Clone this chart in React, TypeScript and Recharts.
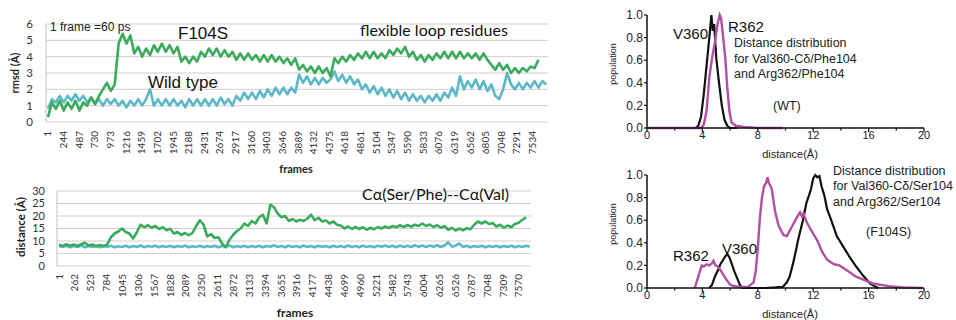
import React from 'react';
import { LineChart, Line, XAxis, YAxis, CartesianGrid } from 'recharts';

// ---------- data: RMSD of flexible loop residues (frames sampled every 61) ----------
const FRAME_STEP = 61;
const rmsdTicks = [1,244,487,730,973,1216,1459,1702,1945,2188,2431,2674,2917,3160,3403,3646,3889,4132,4375,4618,4861,5104,5347,5590,5833,6076,6319,6562,6805,7048,7291,7534];
const rmsdYTicks = [0,1,2,3,4,5,6];
const wtRmsd = [0.8,1.4,1.2,1.6,1.2,1.6,1.3,1.7,1.3,1.6, 1.2,1.5,1.1,1.4,1.0,1.4,1.1,1.4,1.0,1.3, 0.9,1.3,1.0,1.4,1.0,1.4,2.0,1.0,1.4,1.0, 1.4,1.0,1.4,1.0,1.3,0.9,1.4,1.0,1.4,1.0, 1.4,1.0,1.4,1.0,1.5,1.1,1.4,1.0,1.6,1.3, 1.8,1.4,1.8,1.4,1.9,1.5,2.0,1.6,2.1,1.7, 2.1,1.7,2.1,1.8,2.9,2.4,2.8,2.3,2.7,2.3, 2.7,2.4,2.6,3.1,2.5,2.9,2.4,2.8,2.3,2.6, 2.0,2.3,1.8,2.2,1.7,2.1,1.6,2.0,1.5,1.9, 1.4,1.8,1.3,1.7,1.3,1.6,1.2,1.6,1.3,1.7, 1.3,1.8,1.5,2.1,1.6,2.8,2.0,2.5,2.1,2.6, 2.0,2.5,1.9,2.3,1.6,1.4,2.0,3.0,2.3,2.0, 2.4,2.0,2.4,2.1,2.5,2.1,2.5,2.3];
const f104sRmsd = [0.3,1.2,0.8,1.3,0.7,1.2,0.8,1.3,0.7,1.2, 1.0,1.5,1.1,1.6,2.0,2.4,1.9,2.3,4.8,5.4, 4.8,5.3,4.2,4.6,4.0,4.5,4.1,4.7,4.3,4.8, 4.3,4.7,4.2,4.6,3.7,4.0,3.6,4.0,3.7,4.3, 4.0,4.5,4.1,4.5,4.0,4.4,4.0,4.3,3.8,4.2, 3.8,4.2,3.8,4.1,3.7,4.1,3.7,4.1,3.7,4.0, 3.6,3.9,3.5,3.9,3.2,3.5,3.1,3.4,3.0,3.4, 3.0,3.3,2.8,3.9,3.6,4.0,3.7,4.1,3.8,4.2, 3.9,4.3,3.9,4.3,3.9,4.2,3.9,4.4,4.1,4.5, 4.2,4.6,4.0,4.3,3.8,4.1,3.7,4.1,3.8,4.2, 3.9,4.3,3.9,4.3,3.9,4.3,3.9,4.2,3.9,4.2, 3.8,4.2,3.8,3.5,3.2,3.6,3.2,3.5,3.0,3.3, 3.0,3.3,3.1,3.4,3.3,3.8];

// ---------- data: Cα(Ser/Phe)--Cα(Val) distance ----------
const distTicks = [1,262,523,784,1045,1306,1567,1828,2089,2350,2611,2872,3133,3394,3655,3916,4177,4438,4699,4960,5221,5482,5743,6004,6265,6526,6787,7048,7309,7570];
const distYTicks = [0,5,10,15,20,25,30];
const wtDist = [8.0,7.6,8.1,7.5,8.0,7.6,8.2,7.5,8.0,7.6, 8.1,7.5,8.0,7.7,8.1,7.5,7.9,7.6,8.1,7.5, 8.0,7.6,8.2,7.5,8.0,7.7,8.1,7.5,8.0,7.6, 8.1,7.5,8.0,7.6,8.2,7.5,7.9,7.6,8.1,7.5, 8.0,7.6,8.1,7.5,8.0,7.7,8.2,7.5,8.0,7.6, 8.1,7.5,8.0,7.6,8.1,7.5,8.0,7.7,8.3,7.6, 8.0,7.5,8.1,7.6,8.0,7.5,8.2,7.6,8.0,7.5, 8.1,7.6,8.0,7.5,8.1,7.6,8.0,7.5,8.2,7.6, 8.0,7.5,8.1,7.6,8.0,7.5,8.1,7.7,8.2,7.6, 8.1,7.5,8.2,7.6,8.1,7.6,8.3,7.7,8.2,7.6, 8.2,7.7,8.3,7.6,8.2,9.5,7.7,8.2,9.0,7.6, 8.1,7.5,8.0,7.6,8.1,7.5,8.0,7.6,8.1,7.5, 8.0,7.6,8.1,7.5,8.0,7.6,8.1,7.7];
const f104sDist = [8.5,8.0,8.7,8.1,8.6,8.0,8.7,9.3,8.2,8.6, 7.9,8.4,7.9,8.6,11.5,13.0,13.8,15.0,13.6,13.0, 11.0,13.5,16.5,15.5,16.3,15.3,16.0,14.8,15.5,14.3, 14.9,13.0,13.6,12.4,13.2,12.3,13.2,16.0,18.3,16.5, 11.8,12.8,11.2,11.5,9.0,7.5,10.5,12.5,14.0,15.0, 17.0,16.0,18.0,17.0,19.5,20.5,17.0,24.5,23.5,21.0, 19.5,20.0,18.0,18.8,17.8,18.5,18.0,19.0,20.5,18.3, 19.3,17.8,18.2,17.0,17.8,16.5,16.2,15.0,15.8,14.8, 15.6,14.8,15.5,14.5,15.3,14.7,15.6,15.0,15.8,15.2, 16.0,15.5,16.3,15.6,16.4,15.7,16.5,16.0,17.0,16.0, 16.6,15.6,16.3,15.3,16.0,14.5,15.3,14.2,15.0,14.3, 15.1,14.7,16.5,17.8,17.0,17.8,16.8,17.2,15.8,16.5, 15.3,16.2,15.5,16.8,17.3,18.5,19.5];

// ---------- data: distance distributions ----------
const popTicks = [0, 0.2, 0.4, 0.6, 0.8, 1.0];
const distanceTicks = [0,2,4,6,8,10,12,14,16,18,20];
const wtV360D = [0,3.5,3.7,3.9,4.1,4.3,4.5,4.65,4.75,4.85,5.0,5.2,5.4,5.6,5.8,6.0,6.5];
const wtV360P = [0,0,0.02,0.1,0.3,0.55,0.8,1.0,0.86,0.92,0.62,0.4,0.2,0.07,0.02,0,0];
const wtR362D = [0,3.9,4.1,4.3,4.5,4.7,4.9,5.1,5.25,5.35,5.5,5.65,5.8,5.95,6.1,6.4,7.0,8.0,9.8];
const wtR362P = [0,0,0.03,0.15,0.45,0.62,0.76,0.92,1.0,0.97,0.8,0.62,0.35,0.15,0.05,0.02,0.01,0,0];
const mutV360D = [4.5,4.7,4.9,5.1,5.3,5.5,5.65,5.8,5.95,6.1,6.3,6.5,6.7,6.9,7.5,8.5,9.3,9.8,10.1,10.3,10.55,10.75,10.9,11.1,11.3,11.5,11.7,11.85,12.0,12.15,12.3,12.45,12.6,12.8,13.0,13.3,13.7,14.2,14.65,15.1,15.6,16.1,16.5,16.7];
const mutV360P = [0,0.03,0.1,0.15,0.21,0.25,0.28,0.3,0.27,0.22,0.15,0.09,0.03,0,0,0,0.005,0.01,0.05,0.1,0.22,0.33,0.42,0.52,0.62,0.75,0.82,0.88,0.97,1.0,0.98,0.99,0.9,0.82,0.7,0.6,0.46,0.36,0.27,0.19,0.11,0.04,0.01,0];
const mutR362D = [3.45,3.7,3.95,4.1,4.3,4.5,4.7,4.8,4.95,5.1,5.3,5.5,5.75,6.0,6.2,6.7,7.3,7.7,7.85,8.0,8.15,8.3,8.45,8.6,8.7,8.8,9.0,9.25,9.5,9.85,10.1,10.45,10.8,11.05,11.2,11.3,11.5,11.9,12.3,12.6,13.0,13.5,13.9,14.5,15.1,15.7,16.3,17.0,17.5,18.5,19.9];
const mutR362P = [0,0.1,0.2,0.19,0.21,0.2,0.22,0.24,0.2,0.19,0.16,0.12,0.07,0.03,0.02,0.01,0.01,0.05,0.15,0.35,0.62,0.8,0.9,0.93,0.98,0.93,0.88,0.68,0.55,0.47,0.46,0.54,0.62,0.67,0.63,0.66,0.59,0.5,0.42,0.33,0.25,0.21,0.2,0.15,0.1,0.07,0.04,0.025,0.015,0.005,0];

const rmsdData = wtRmsd.map((v, i) => ({ frame: 1 + i * FRAME_STEP, wt: v, f104s: f104sRmsd[i] }));
const distData = wtDist.map((v, i) => ({ frame: 1 + i * FRAME_STEP, wt: v, f104s: f104sDist[i] }));
const toPts = (d: number[], p: number[]) => d.map((x, i) => ({ d: x, p: p[i] }));

const GREEN = '#3aab5d';
const CYAN = '#5cb8c8';
const MAGENTA = '#b24fa6';
const BLACK = '#111111';
const GRID = '#d6cdcd';
const CAL = 'Lato, "Open Sans", sans-serif';
const ARIAL = '"Liberation Sans", Arial, sans-serif';

const FrameTick = (props: any) => {
  const { x, y, payload, off } = props;
  const yy = y + (off || 0);
  return (
    <text x={x} y={yy} transform={`rotate(-90 ${x} ${yy})`} textAnchor="end" dy="0.35em" fontSize={10} fontFamily={CAL} fill="#333">
      {payload.value}
    </text>
  );
};

const DistXTick = (props: any) => {
  const { x, y, payload } = props;
  const major = payload.value % 4 === 0;
  return (
    <g>
      <line x1={x} x2={x} y1={y} y2={y + (major ? 4 : 2.5)} stroke={BLACK} strokeWidth={1.2} />
      {major && (
        <text x={x} y={y + 11} textAnchor="middle" fontSize={11} fontFamily={ARIAL} fill="#222">{payload.value}</text>
      )}
    </g>
  );
};

const PopYTick = (props: any) => {
  const { x, y, payload } = props;
  return (
    <g>
      <line x1={x - 3} x2={x} y1={y} y2={y} stroke={BLACK} strokeWidth={1.2} />
      <text x={x - 4} y={y} dy="0.35em" textAnchor="end" fontSize={12} fontFamily={ARIAL} fill="#222">{payload.value.toFixed(1)}</text>
    </g>
  );
};

const DistributionChart = ({ v360, r362, top }: any) => (
  <div style={{ position: 'absolute', left: 590, top }}>
    <LineChart width={366} height={160} margin={{ top: 15, right: 32, bottom: 10, left: 0 }}>
      <XAxis dataKey="d" type="number" domain={[0, 20]} ticks={distanceTicks} interval={0} height={22}
        axisLine={{ stroke: BLACK, strokeWidth: 1.5 }} tickLine={false} tickSize={0} tickMargin={0} tick={<DistXTick />} allowDataOverflow />
      <YAxis type="number" domain={[0, 1]} ticks={popTicks} interval={0} width={57}
        axisLine={{ stroke: BLACK, strokeWidth: 1.5 }} tickLine={false} tickSize={0} tickMargin={0} tick={<PopYTick />} />
      <Line data={v360} dataKey="p" stroke={BLACK} strokeWidth={2.2} dot={false} isAnimationActive={false} />
      <Line data={r362} dataKey="p" stroke={MAGENTA} strokeWidth={2.4} dot={false} isAnimationActive={false} />
    </LineChart>
  </div>
);

export default function App() {
  return (
    <div style={{ position: 'absolute', left: 0, top: 0, width: 956, height: 320, background: '#fff', overflow: 'hidden' }}>
      <div style={{ position: 'absolute', left: 0, top: 0 }}>
        <LineChart width={560} height={180} data={rmsdData} margin={{ top: 24, right: 12, bottom: 18, left: 0 }}>
          <CartesianGrid vertical={false} stroke={GRID} />
          <XAxis dataKey="frame" type="number" domain={[-30, 7774]} ticks={rmsdTicks} interval={0} height={40}
            axisLine={false} tickLine={false} tick={<FrameTick off={1} />} allowDataOverflow />
          <YAxis domain={[0, 6]} ticks={rmsdYTicks} interval={0} width={46} axisLine={{ stroke: '#c6bebe' }} tickLine={false}
            tickMargin={7} tick={{ fontSize: 11.5, fill: '#333', fontFamily: CAL }} />
          <Line dataKey="wt" stroke={CYAN} strokeWidth={2.6} strokeLinejoin="round" dot={false} isAnimationActive={false} />
          <Line dataKey="f104s" stroke={GREEN} strokeWidth={2.6} strokeLinejoin="round" dot={false} isAnimationActive={false} />
        </LineChart>
      </div>
      <div style={{ position: 'absolute', left: 0, top: 170 }}>
        <LineChart width={560} height={150} data={distData} margin={{ top: 21, right: 29, bottom: 18, left: 0 }}>
          <CartesianGrid vertical={false} stroke={GRID} />
          <XAxis dataKey="frame" type="number" domain={[-32, 7768]} ticks={distTicks} interval={0} height={36}
            axisLine={false} tickLine={false} tick={<FrameTick off={0} />} allowDataOverflow />
          <YAxis domain={[0, 30]} ticks={distYTicks} interval={0} width={57} axisLine={{ stroke: '#c6bebe' }} tickLine={false}
            tickMargin={6} tick={{ fontSize: 11, fill: '#333', fontFamily: CAL }} />
          <Line dataKey="wt" stroke={CYAN} strokeWidth={2.6} strokeLinejoin="round" dot={false} isAnimationActive={false} />
          <Line dataKey="f104s" stroke={GREEN} strokeWidth={2.6} strokeLinejoin="round" dot={false} isAnimationActive={false} />
        </LineChart>
      </div>
      <DistributionChart top={0} v360={toPts(wtV360D, wtV360P)} r362={toPts(wtR362D, wtR362P)} />
      <DistributionChart top={160} v360={toPts(mutV360D, mutV360P)} r362={toPts(mutR362D, mutR362P)} />

      <svg width={956} height={320} style={{ position: 'absolute', left: 0, top: 0, pointerEvents: 'none' }}>
        {/* left panel annotations */}
        <text x={50} y={31} fontSize={12} fontFamily={ARIAL} fill="#222">1 frame =60 ps</text>
        <text x={178} y={39} fontSize={17} fontFamily={ARIAL} fill="#111">F104S</text>
        <text x={148} y={88} fontSize={17} fontFamily={ARIAL} fill="#111">Wild type</text>
        <text x={360} y={36} fontSize={16} fontFamily={CAL} fill="#111">flexible loop residues</text>
        <text x={362} y={200} fontSize={16} fontFamily={CAL} fill="#111">Cα(Ser/Phe)--Cα(Val)</text>
        <text x={19} y={73} transform="rotate(-90 19 73)" textAnchor="middle" fontSize={11} fontWeight="bold" fontFamily={CAL} fill="#222">rmsd (Å)</text>
        <text x={25} y={227} transform="rotate(-90 25 227)" textAnchor="middle" fontSize={11.5} fontWeight="bold" fontFamily={CAL} fill="#222">distance (Å)</text>
        <text x={296} y={173} textAnchor="middle" fontSize={11} fontWeight="bold" fontFamily={CAL} fill="#222">frames</text>
        <text x={295} y={317} textAnchor="middle" fontSize={12} fontWeight="bold" fontFamily={CAL} fill="#222">frames</text>

        {/* right top */}
        <text x={616} y={64} transform="rotate(-90 616 64)" textAnchor="middle" fontSize={9} fontFamily={ARIAL} fill="#222">population</text>
        <text x={790} y={158} textAnchor="middle" fontSize={11} fontFamily={ARIAL} fill="#222">distance(Å)</text>
        <text x={673} y={39} fontSize={15} fontFamily={ARIAL} fill="#111">V360</text>
        <text x={728} y={32} fontSize={15} fontFamily={ARIAL} fill="#111">R362</text>
        <text x={734} y={47} fontSize={12.5} fontFamily={ARIAL} fill="#222">Distance distribution</text>
        <text x={734} y={63} fontSize={12.5} fontFamily={ARIAL} fill="#222">for Val360-Cδ/Phe104</text>
        <text x={734} y={78} fontSize={12.5} fontFamily={ARIAL} fill="#222">and Arg362/Phe104</text>
        <text x={773} y={110} fontSize={12.5} fontFamily={ARIAL} fill="#222">(WT)</text>

        {/* right bottom */}
        <text x={616} y={224} transform="rotate(-90 616 224)" textAnchor="middle" fontSize={9} fontFamily={ARIAL} fill="#222">population</text>
        <text x={790} y={318} textAnchor="middle" fontSize={11} fontFamily={ARIAL} fill="#222">distance(Å)</text>
        <text x={673} y={261} fontSize={15} fontFamily={ARIAL} fill="#111">R362</text>
        <text x={722} y={254} fontSize={15} fontFamily={ARIAL} fill="#111">V360</text>
        <text x={833} y={175} fontSize={12.5} fontFamily={ARIAL} fill="#222">Distance distribution</text>
        <text x={833} y={190} fontSize={12.5} fontFamily={ARIAL} fill="#222">for Val360-Cδ/Ser104</text>
        <text x={833} y={206} fontSize={12.5} fontFamily={ARIAL} fill="#222">and Arg362/Ser104</text>
        <text x={866} y={236} fontSize={12.5} fontFamily={ARIAL} fill="#222">(F104S)</text>
      </svg>
    </div>
  );
}
